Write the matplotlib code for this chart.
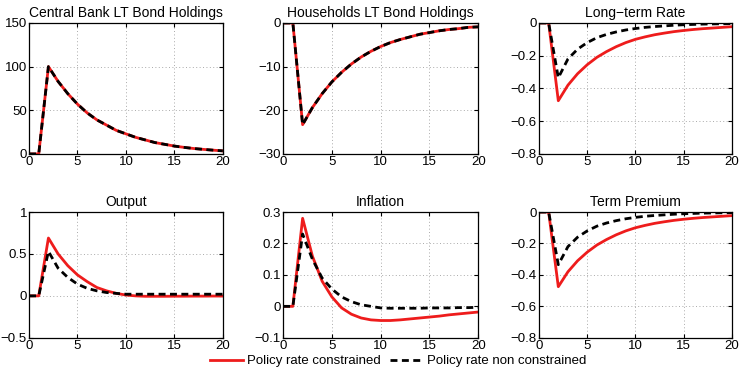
import numpy as np
import matplotlib
matplotlib.use("Agg")
import matplotlib.pyplot as plt

plt.rcParams['font.family'] = ['Liberation Sans', 'DejaVu Sans']

# horizon
periods = list(range(21))

# responses, constrained (red) and non constrained (black)
cb_con = [0, 0, 100, 83, 69, 57, 47, 39, 33, 27, 23, 19, 16, 13, 11, 9, 7.5, 6.2, 5.2, 4.3, 3.5]
cb_non = [0, 0, 100, 83, 69, 57, 47, 39, 33, 27, 23, 19, 16, 13, 11, 9, 7.5, 6.2, 5.2, 4.3, 3.5]

hh_con = [0, 0, -23.3, -19.4, -16.2, -13.5, -11.3, -9.4, -7.8, -6.5, -5.4, -4.5, -3.8, -3.2, -2.6, -2.2, -1.8, -1.5, -1.3, -1.0, -0.9]
hh_non = [0, 0, -23.3, -19.4, -16.2, -13.5, -11.3, -9.4, -7.8, -6.5, -5.4, -4.5, -3.8, -3.2, -2.6, -2.2, -1.8, -1.5, -1.3, -1.0, -0.9]

lt_con = [0, 0, -0.475, -0.38, -0.31, -0.255, -0.21, -0.175, -0.145, -0.12, -0.10, -0.085, -0.072, -0.062, -0.053, -0.046, -0.040, -0.035, -0.031, -0.027, -0.023]
lt_non = [0, 0, -0.335, -0.22, -0.16, -0.12, -0.09, -0.07, -0.055, -0.043, -0.034, -0.027, -0.022, -0.018, -0.014, -0.011, -0.009, -0.007, -0.006, -0.005, -0.004]

out_con = [0, 0, 0.69, 0.50, 0.36, 0.25, 0.17, 0.10, 0.06, 0.03, 0.01, 0.0, -0.005, -0.005, -0.005, -0.004, -0.004, -0.003, -0.003, -0.002, -0.002]
out_non = [0, 0, 0.53, 0.33, 0.22, 0.14, 0.09, 0.06, 0.04, 0.03, 0.02, 0.02, 0.02, 0.02, 0.02, 0.02, 0.02, 0.02, 0.02, 0.02, 0.02]

inf_con = [0, 0, 0.28, 0.16, 0.08, 0.03, -0.005, -0.025, -0.037, -0.043, -0.045, -0.045, -0.043, -0.040, -0.037, -0.034, -0.031, -0.027, -0.024, -0.021, -0.018]
inf_non = [0, 0, 0.23, 0.15, 0.09, 0.055, 0.03, 0.015, 0.005, 0.0, -0.005, -0.006, -0.006, -0.006, -0.006, -0.005, -0.005, -0.005, -0.004, -0.004, -0.003]

tp_con = [0, 0, -0.475, -0.38, -0.31, -0.255, -0.21, -0.175, -0.145, -0.12, -0.10, -0.085, -0.072, -0.062, -0.053, -0.046, -0.040, -0.035, -0.031, -0.027, -0.023]
tp_non = [0, 0, -0.335, -0.22, -0.16, -0.12, -0.09, -0.07, -0.055, -0.043, -0.034, -0.027, -0.022, -0.018, -0.014, -0.011, -0.009, -0.007, -0.006, -0.005, -0.004]

titles = ["Central Bank LT Bond Holdings", "Households LT Bond Holdings", "Long\u2212term Rate",
          "Output", "Inflation", "Term Premium"]
series = [(cb_con, cb_non), (hh_con, hh_non), (lt_con, lt_non),
          (out_con, out_non), (inf_con, inf_non), (tp_con, tp_non)]
yticks = [[0, 50, 100, 150], [-30, -20, -10, 0], [-0.8, -0.6, -0.4, -0.2, 0],
          [-0.5, 0, 0.5, 1], [-0.1, 0, 0.1, 0.2, 0.3], [-0.8, -0.6, -0.4, -0.2, 0]]
legend_labels = ["Policy rate constrained", "Policy rate non constrained"]

fig = plt.figure(figsize=(7.45, 3.7), dpi=100)

lefts = [0.039, 0.380, 0.7235]
widths = [0.260, 0.262, 0.259]
bottoms = [0.584, 0.087]
heights = [0.354, 0.340]

for i in range(6):
    r, c = divmod(i, 3)
    ax = fig.add_axes([lefts[c], bottoms[r], widths[c], heights[r]])
    con, non = series[i]
    l1, = ax.plot(periods, con, color='#ee1c1c', lw=2.0, label=legend_labels[0])
    l2, = ax.plot(periods, non, color='black', lw=2.0, ls=(0, (2.5, 1.6)), label=legend_labels[1])
    ax.set_xlim(0, 20)
    ax.set_xticks([0, 5, 10, 15, 20])
    yt = yticks[i]
    ax.set_ylim(yt[0], yt[-1])
    ax.set_yticks(yt)
    ax.set_yticklabels([("%g" % v).replace("-", "\u2212") for v in yt])
    ax.set_title(titles[i], fontsize=10, pad=4)
    ax.grid(True, ls=(0, (1, 2.5)), color='#aaaaaa', lw=0.7)
    ax.tick_params(direction='in', labelsize=9.5, length=3, top=True, right=True, pad=1.5)
    for s in ax.spines.values():
        s.set_linewidth(0.9)

fig.legend([l1, l2], legend_labels, loc='center', ncol=2, bbox_to_anchor=(0.535, 0.024),
           frameon=False, fontsize=9.5, handlelength=2.5, columnspacing=0.7, handletextpad=0.3,
           borderpad=0.0)

fig.savefig("out.png", dpi=100)
